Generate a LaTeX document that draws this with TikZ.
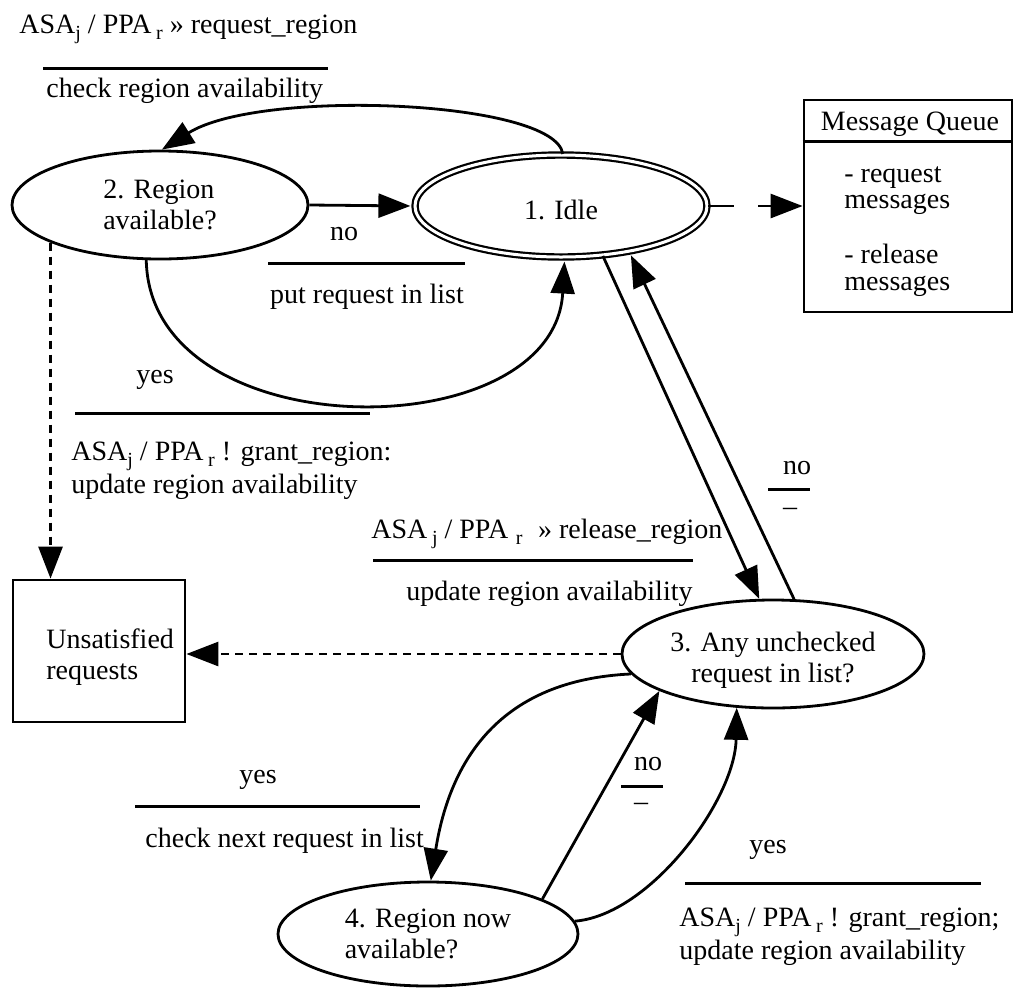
\documentclass[tikz,border=0pt]{standalone}
\usepackage{fontspec}
\setmainfont{Liberation Serif}
\usetikzlibrary{arrows.meta,shapes.geometric,calc}
% lowered subscript used in the message labels
\newcommand\lowsub[1]{\raisebox{-6.5pt}{\fontsize{20}{20}\selectfont #1}}

\begin{document}
\begin{tikzpicture}[x=1pt,y=-1pt,
  font=\fontsize{28}{31}\selectfont,
  line width=2.8pt,
  state/.style={draw, ellipse, inner sep=0pt, align=left},
  box/.style={draw, rectangle, inner sep=0pt},
  arr/.style={-{Triangle[length=32pt,width=24pt]}},
  dashline/.style={dash pattern=on 8pt off 6pt},
  rulel/.style={line width=3pt},
  txt/.style={inner sep=0pt, anchor=base west},
  ctxt/.style={inner sep=0pt, anchor=base}]
\useasboundingbox (0,0) rectangle (1013,989);

% states
\node[state, minimum width=296pt, minimum height=108pt] (e2) at (160,205) {2. Region\\available?};
\node[state, double, double distance=3pt, line width=2.2pt,
      minimum width=292pt, minimum height=102pt] (idle) at (561,206) {\rule{0pt}{27pt}1. Idle};
\node[state, align=center, minimum width=302pt, minimum height=108pt] (e3) at (773,654)
      {\rule{0pt}{31pt}3. Any unchecked\\request in list?};
\node[state, minimum width=300pt, minimum height=104pt] (e4) at (428,934) {4. Region now\\available?};

% message queue
\node[box, minimum width=208pt, minimum height=212pt] (mq) at (908,206) {};
\draw ([yshift=-43pt]mq.north west) -- ([yshift=-43pt]mq.north east);
\node[ctxt] (mqtitle) at (910,130) {Message Queue};
\node[txt] (mq1) at (843,182) {- request};
\node[txt] (mq2) at (843,208) {messages};
\node[txt] (mq3) at (843,263) {- release};
\node[txt] (mq4) at (843,290) {messages};

% unsatisfied requests
\node[box, minimum width=172pt, minimum height=142pt] (unsat) at (99,651) {};
\node[txt] (us1) at (45,648) {Unsatisfied};
\node[txt] (us2) at (45,679) {requests};

% transition labels
\node[txt] (la1) at (18,33) {ASA\lowsub{j} / PPA\,\lowsub{r} » request\_region};
\draw[rulel] (43,68) -- (328,68);
\node[txt] (la2) at (45,97) {check region availability};

\node[ctxt] (lb1) at (344,240) {no};
\draw[rulel] (268,263) -- (465,263);
\node[ctxt] (lb2) at (367,303) {put request in list};

\node[ctxt] (lc1) at (155,383) {yes};
\draw[rulel] (75,413) -- (370,413);
\node[txt] (lc2) at (70,460) {ASA\lowsub{j} / PPA\,\lowsub{r} ! grant\_region:};
\node[txt] (lc3) at (70,493) {update region availability};

\node[txt] (ld1) at (370,538) {ASA\,\lowsub{j} / PPA\;\lowsub{r}\;\;» release\_region};
\draw[rulel] (373,560) -- (693,560);
\node[txt] (ld2) at (405,600) {update region availability};

\node[ctxt] (le1) at (797,474) {no};
\draw[rulel] (768,489) -- (810,489);
\node[ctxt] (le2) at (790,515) {–};

\node[ctxt] (lf1) at (648,770) {no};
\draw[rulel] (621,786) -- (663,786);
\node[ctxt] (lf2) at (641,810) {–};

\node[ctxt] (lg1) at (258,783) {yes};
\draw[rulel] (135,806) -- (420,806);
\node[txt] (lg2) at (144,847) {check next request in list};

\node[ctxt] (lh1) at (768,853) {yes};
\draw[rulel] (685,883) -- (981,883);
\node[txt] (lh2) at (678,926) {ASA\lowsub{j} / PPA\,\lowsub{r} ! grant\_region;};
\node[txt] (lh3) at (678,959) {update region availability};

% transitions
\draw[arr] (idle.88) .. controls (555,100) and (260,88) .. (e2.88);
\draw[arr, shorten >=3.5pt] (e2.east) -- (idle.west);
\draw[arr, shorten >=3.5pt] (e2.256) .. controls (150,450) and (554,450) .. (idle.-86);
\draw (idle.east) -- ($(idle.east)!0.27!(mq.west)$);
\draw[arr] ($(idle.east)!0.53!(mq.west)$) -- (mq.west);
\draw[arr, dashline] (e2.199) -- (e2.199 |- unsat.north);
\draw[arr, dashline] (e3.west) -- (e3.west -| unsat.east);
\draw[arr] (idle.-50) -- (e3.104);
\draw[arr, shorten >=3.5pt] (e3.69) -- (idle.-34);
\draw[arr] (e3.188) .. controls (500,680) and (450,760) .. (e4.87);
\draw[arr] (e4.17) -- (e3.198);
\draw[arr] (e4.5) .. controls (650,915) and (735,800) .. (e3.236);
\end{tikzpicture}
\end{document}
